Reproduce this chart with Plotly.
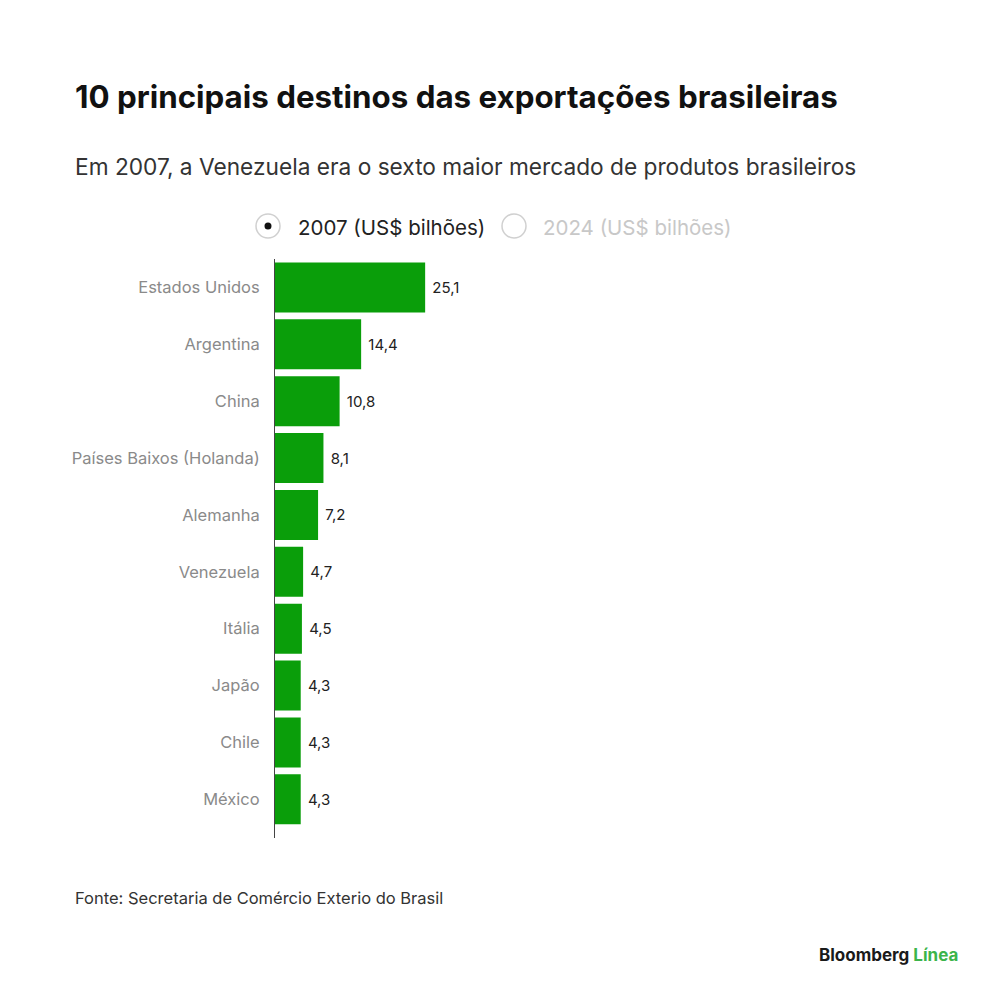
import plotly.graph_objects as go

paises = ["Estados Unidos", "Argentina", "China", "Países Baixos (Holanda)", "Alemanha",
          "Venezuela", "Itália", "Japão", "Chile", "México"]
valores_2007 = [25.1, 14.4, 10.8, 8.1, 7.2, 4.7, 4.5, 4.3, 4.3, 4.3]
rotulos = [("%.1f" % v).replace(".", ",") for v in valores_2007]

FONT = "Inter"
OFF = 8  # margem do body da pagina

fig = go.Figure()
fig.add_trace(go.Bar(
    x=valores_2007, y=paises, orientation="h",
    marker=dict(color="#0a9e0a", line=dict(width=0)),
    text=rotulos, texttemplate=" %{text}", textposition="outside", cliponaxis=False,
    textfont=dict(family=FONT, size=15, color="#222222"),
    hoverinfo="x+y", showlegend=False,
))

W, H = 1000, 1000
left, right = 275 - OFF, 125 + OFF
top, bottom = 259 - OFF, 162 + OFF
pw, ph = W - left - right, H - top - bottom

fig.update_layout(
    width=W, height=H,
    margin=dict(l=left, r=right, t=top, b=bottom, pad=0),
    paper_bgcolor="white", plot_bgcolor="white",
    bargap=0.12,
    font=dict(family=FONT),
    xaxis=dict(range=[0, 100.3], visible=False, fixedrange=True),
    yaxis=dict(
        autorange=False, range=[9.68, -0.5],
        showline=True, linecolor="#444444", linewidth=1,
        showgrid=False, zeroline=False, ticks="", ticklabelstandoff=11,
        tickfont=dict(family=FONT, size=16.5, color="#8a8a8a"),
    ),
)

def fx(p):
    return (p - OFF - left) / pw

def fy(p):
    return 1 - (p - OFF - top) / ph

anns = [
    dict(text="<b>10 principais destinos das exportações brasileiras</b>", x=73, y=97,
         size=31.3, color="#111111"),
    dict(text="Em 2007, a Venezuela era o sexto maior mercado de produtos brasileiros", x=73, y=167,
         size=22.7, color="#333333"),
    dict(text="2007 (US$ bilhões)", x=296, y=227, size=20.5, color="#222222"),
    dict(text="2024 (US$ bilhões)", x=541, y=227, size=20.5, color="#c8c8c8"),
    dict(text="Fonte: Secretaria de Comércio Exterio do Brasil", x=73, y=898,
         size=16.5, color="#333333"),
    dict(text="<b>Bloomberg <span style='color:#3cb44b'>Línea</span></b>", x=817, y=955,
         size=17, color="#1a1a1a"),
]
for a in anns:
    fig.add_annotation(text=a["text"], xref="paper", yref="paper",
                       x=fx(a["x"]), y=fy(a["y"]),
                       xanchor="left", yanchor="middle", showarrow=False,
                       font=dict(family=FONT, size=a["size"], color=a["color"]))

# radio buttons da legenda
def circ(cx, cy, r, **kw):
    fig.add_shape(type="circle", xref="paper", yref="paper",
                  x0=fx(cx - r), x1=fx(cx + r),
                  y0=fy(cy + r), y1=fy(cy - r), **kw)

circ(268, 226, 12, line=dict(color="#d0d0d0", width=1.5), fillcolor="white")
circ(268, 226, 3.5, line=dict(width=0), fillcolor="#111111")
circ(514, 226, 12, line=dict(color="#d0d0d0", width=1.5), fillcolor="white")

fig.write_html("out.html")
